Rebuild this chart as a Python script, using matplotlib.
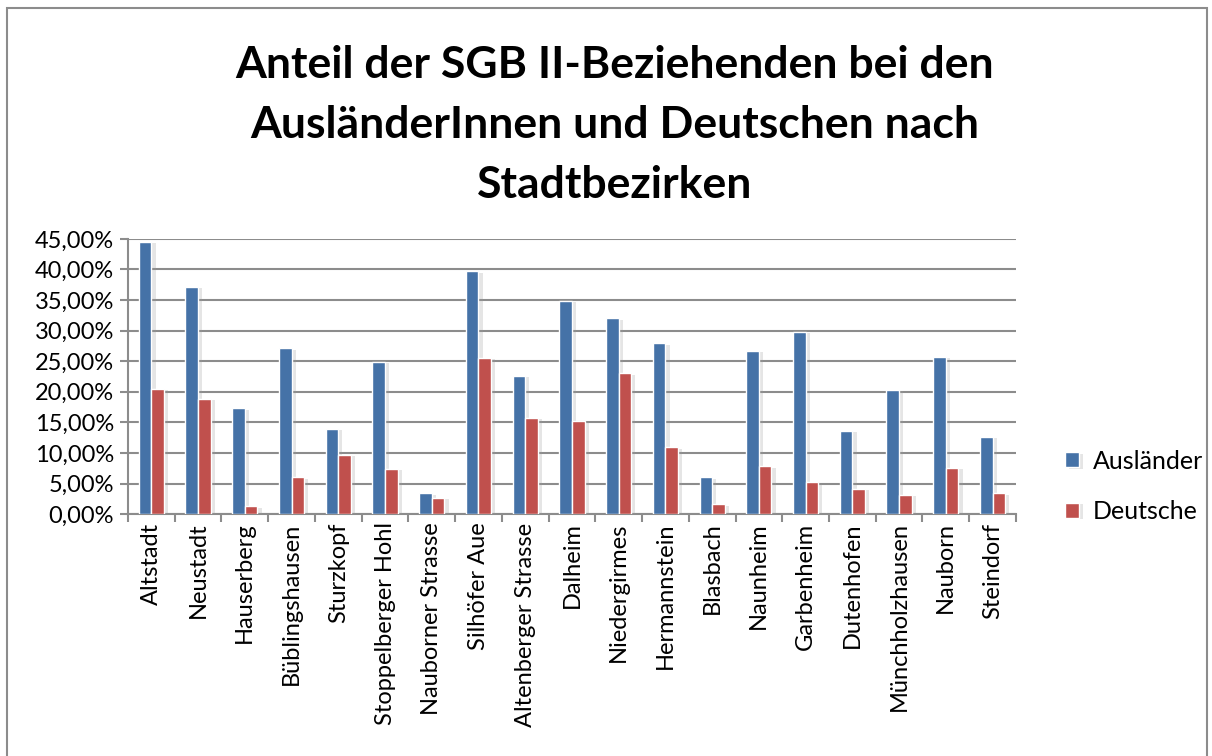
import numpy as np
import matplotlib
matplotlib.use("Agg")
import matplotlib.pyplot as plt
import matplotlib.patheffects as pe
from matplotlib.ticker import FuncFormatter, MultipleLocator

plt.rcParams['font.family'] = ['Lato', 'DejaVu Sans']

bezirke = ['Altstadt', 'Neustadt', 'Hauserberg', 'Büblingshausen', 'Sturzkopf',
           'Stoppelberger Hohl', 'Nauborner Strasse', 'Silhöfer Aue',
           'Altenberger Strasse', 'Dalheim', 'Niedergirmes', 'Hermannstein',
           'Blasbach', 'Naunheim', 'Garbenheim', 'Dutenhofen',
           'Münchholzhausen', 'Nauborn', 'Steindorf']
auslaender = [44.5, 37.2, 17.3, 27.1, 13.9, 24.9, 3.4, 39.7, 22.6, 34.9,
              32.0, 27.9, 6.0, 26.7, 29.8, 13.6, 20.3, 25.7, 12.6]
deutsche = [20.5, 18.9, 1.3, 6.0, 9.7, 7.4, 2.7, 25.6, 15.7, 15.3,
            23.0, 10.9, 1.6, 7.8, 5.2, 4.1, 3.2, 7.6, 3.4]

blue = '#4572A7'
red = '#C0504D'

fig = plt.figure(figsize=(12.12, 7.56), dpi=100)
ax = fig.add_axes([0.1056, 0.32, 0.7326, 0.364])

x = np.arange(len(bezirke))
w = 0.27
shadow = [pe.SimplePatchShadow(offset=(3, -1), shadow_rgbFace='#999999', alpha=0.25), pe.Normal()]
b1 = ax.bar(x - w / 2, auslaender, w, color=blue, edgecolor='white', linewidth=1,
            label='Ausländer', zorder=3)
b2 = ax.bar(x + w / 2, deutsche, w, color=red, edgecolor='white', linewidth=1,
            label='Deutsche', zorder=3)
for b in list(b1) + list(b2):
    b.set_path_effects(shadow)

ax.set_xlim(-0.5, len(bezirke) - 0.5)
ax.set_ylim(0, 45)
ax.yaxis.set_major_locator(MultipleLocator(5))
ax.yaxis.set_major_formatter(FuncFormatter(lambda v, p: ('%.2f%%' % v).replace('.', ',')))
ax.grid(axis='y', color='#8c8c8c', linewidth=1.5, zorder=0)
ax.set_axisbelow(True)

ax.set_xticks(np.arange(len(bezirke) + 1) - 0.5)
ax.set_xticklabels([])
ax.set_xticks(x, minor=True)
ax.set_xticklabels(bezirke, minor=True, rotation=90, fontsize=17)
ax.tick_params(axis='x', which='minor', length=0, pad=6)
ax.tick_params(axis='x', which='major', length=6, width=1.5, color='#8c8c8c', direction='out')
ax.tick_params(axis='y', length=6, width=1.5, color='#8c8c8c', labelsize=17, pad=4)

for s in ['top', 'right']:
    ax.spines[s].set_visible(False)
for s in ['left', 'bottom']:
    ax.spines[s].set_color('#8c8c8c')
    ax.spines[s].set_linewidth(1.5)

fig.suptitle('Anteil der SGB II-Beziehenden bei den\nAusländerInnen und Deutschen nach\nStadtbezirken',
             x=0.507, y=0.835, va='center', fontsize=32, fontweight='bold', linespacing=1.6)

ax.legend(loc='center left', bbox_to_anchor=(1.03, 0.10), frameon=False,
          fontsize=18, handlelength=0.55, handleheight=0.55, labelspacing=1.1,
          handletextpad=0.55)

fig.patches.append(plt.Rectangle((0.006, -0.01), 0.99, 1.0, transform=fig.transFigure,
                                 fill=False, edgecolor='#8c8c8c', linewidth=1.5))

fig.savefig('out.png', dpi=100)
